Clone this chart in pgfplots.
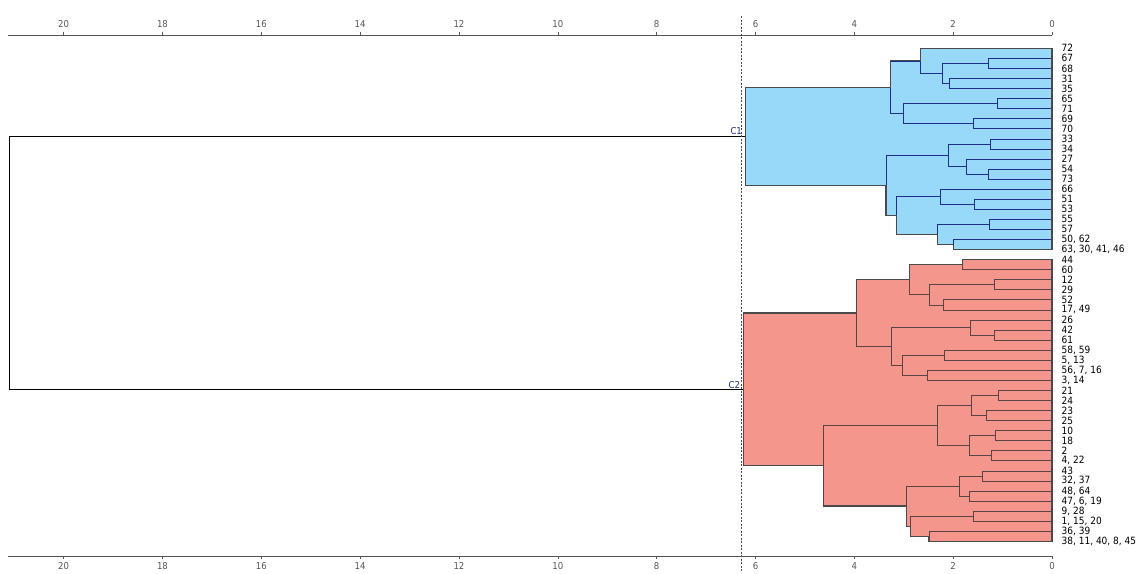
\documentclass[border=0pt]{standalone}
\usepackage{fontspec}
\setmainfont{DejaVu Sans Condensed}
\usepackage{pgfplots}
\pgfplotsset{compat=1.18}

\definecolor{cblue}{HTML}{98D8F8}
\definecolor{cred}{HTML}{F5968C}
\definecolor{navyln}{HTML}{1E2E8E}
\definecolor{redln}{HTML}{5A4444}
\definecolor{edge}{HTML}{4A4A4A}
\definecolor{tickgray}{HTML}{555555}

\pgfplotsset{
  dendro/.style={
    width=1043.7bp, height=520.7bp, scale only axis,
    x dir=reverse, y dir=reverse,
    xmin=0, xmax=21.12, ymin=-1.32, ymax=50.44,
    xtick={0,2,...,20},
    tick align=outside, major tick length=3.5bp,
    x axis line style={-, draw=tickgray},
    xtick style={draw=tickgray, semithick},
    xticklabel style={font=\fontsize{9.5bp}{11bp}\selectfont, text=tickgray},
    /pgf/number format/assume math mode=true,
    clip=false,
  },
}

\begin{document}
\begin{tikzpicture}
% top scale
\begin{axis}[dendro, name=ax2,
  axis x line*=bottom, hide y axis]
\end{axis}

\begin{axis}[dendro, name=ax,
  axis x line*=top, axis y line*=right,
  y axis line style={draw=none},
  ytick={0,...,49},
  yticklabels={72,67,68,31,35,65,71,69,70,33,34,27,54,73,66,51,53,55,57,{50, 62},{63, 30, 41, 46},
    44,60,12,29,52,{17, 49},26,42,61,{58, 59},{5, 13},{56, 7, 16},{3, 14},21,24,23,25,10,18,2,{4, 22},
    43,{32, 37},{48, 64},{47, 6, 19},{9, 28},{1, 15, 20},{36, 39},{38, 11, 40, 8, 45}},
  ytick style={draw=none},
  yticklabel style={font=\fontsize{10bp}{11bp}\selectfont, anchor=west, inner sep=0pt, xshift=6bp},
  unbounded coords=jump,
]

% cluster areas
\addplot[fill=cblue, draw=none] coordinates {
  (6.21,3.875) (3.27,3.875) (3.27,1.25) (2.67,1.25) (2.67,0) (0,0) (0,20)
  (1.99,20) (1.99,19.5) (2.32,19.5) (2.32,18.5) (3.15,18.5) (3.15,16.625)
  (3.36,16.625) (3.36,13.625) (6.21,13.625)} -- cycle;
\addplot[fill=cred, draw=none] coordinates {
  (6.25,26.3125) (3.95,26.3125) (3.95,23) (2.88,23) (2.88,21.5) (1.82,21.5) (1.82,21) (0,21) (0,49)
  (2.49,49) (2.49,48.5) (2.86,48.5) (2.86,47.5) (2.95,47.5) (2.95,45.5)
  (4.63,45.5) (4.63,41.5) (6.25,41.5)} -- cycle;

% C1 links
\addplot[navyln, line width=0.6bp] coordinates {
  (0,1) (1.29,1) (1.29,2) (0,2) (nan,nan)
  (0,3) (2.07,3) (2.07,4) (0,4) (nan,nan)
  (1.29,1.5) (2.22,1.5) (2.22,3.5) (2.07,3.5) (nan,nan)
  (0,0) (2.67,0) (2.67,2.5) (2.22,2.5) (nan,nan)
  (0,5) (1.10,5) (1.10,6) (0,6) (nan,nan)
  (0,7) (1.59,7) (1.59,8) (0,8) (nan,nan)
  (1.10,5.5) (3.00,5.5) (3.00,7.5) (1.59,7.5) (nan,nan)
  (2.67,1.25) (3.27,1.25) (3.27,6.5) (3.00,6.5) (nan,nan)
  (0,9) (1.24,9) (1.24,10) (0,10) (nan,nan)
  (0,12) (1.28,12) (1.28,13) (0,13) (nan,nan)
  (0,11) (1.74,11) (1.74,12.5) (1.28,12.5) (nan,nan)
  (1.24,9.5) (2.09,9.5) (2.09,11.75) (1.74,11.75) (nan,nan)
  (0,15) (1.57,15) (1.57,16) (0,16) (nan,nan)
  (0,14) (2.26,14) (2.26,15.5) (1.57,15.5) (nan,nan)
  (0,17) (1.27,17) (1.27,18) (0,18) (nan,nan)
  (0,19) (1.99,19) (1.99,20) (0,20) (nan,nan)
  (1.27,17.5) (2.32,17.5) (2.32,19.5) (1.99,19.5) (nan,nan)
  (2.26,14.75) (3.15,14.75) (3.15,18.5) (2.32,18.5) (nan,nan)
  (2.09,10.625) (3.36,10.625) (3.36,16.625) (3.15,16.625) (nan,nan)
  (3.27,3.875) (6.21,3.875) (6.21,13.625) (3.36,13.625)};

% C2 links
\addplot[redln, line width=0.6bp] coordinates {
  (0,21) (1.82,21) (1.82,22) (0,22) (nan,nan)
  (0,23) (1.16,23) (1.16,24) (0,24) (nan,nan)
  (0,25) (2.20,25) (2.20,26) (0,26) (nan,nan)
  (1.16,23.5) (2.48,23.5) (2.48,25.5) (2.20,25.5) (nan,nan)
  (1.82,21.5) (2.88,21.5) (2.88,24.5) (2.48,24.5) (nan,nan)
  (0,28) (1.17,28) (1.17,29) (0,29) (nan,nan)
  (0,27) (1.66,27) (1.66,28.5) (1.17,28.5) (nan,nan)
  (0,30) (2.18,30) (2.18,31) (0,31) (nan,nan)
  (0,32) (2.52,32) (2.52,33) (0,33) (nan,nan)
  (2.18,30.5) (3.02,30.5) (3.02,32.5) (2.52,32.5) (nan,nan)
  (1.66,27.75) (3.26,27.75) (3.26,31.5) (3.02,31.5) (nan,nan)
  (2.88,23) (3.95,23) (3.95,29.625) (3.26,29.625) (nan,nan)
  (0,34) (1.08,34) (1.08,35) (0,35) (nan,nan)
  (0,36) (1.33,36) (1.33,37) (0,37) (nan,nan)
  (1.08,34.5) (1.64,34.5) (1.64,36.5) (1.33,36.5) (nan,nan)
  (0,38) (1.14,38) (1.14,39) (0,39) (nan,nan)
  (0,40) (1.23,40) (1.23,41) (0,41) (nan,nan)
  (1.14,38.5) (1.67,38.5) (1.67,40.5) (1.23,40.5) (nan,nan)
  (1.64,35.5) (2.32,35.5) (2.32,39.5) (1.67,39.5) (nan,nan)
  (0,42) (1.41,42) (1.41,43) (0,43) (nan,nan)
  (0,44) (1.68,44) (1.68,45) (0,45) (nan,nan)
  (1.41,42.5) (1.88,42.5) (1.88,44.5) (1.68,44.5) (nan,nan)
  (0,46) (1.60,46) (1.60,47) (0,47) (nan,nan)
  (0,48) (2.49,48) (2.49,49) (0,49) (nan,nan)
  (1.60,46.5) (2.86,46.5) (2.86,48.5) (2.49,48.5) (nan,nan)
  (1.88,43.5) (2.95,43.5) (2.95,47.5) (2.86,47.5) (nan,nan)
  (2.32,37.5) (4.63,37.5) (4.63,45.5) (2.95,45.5) (nan,nan)
  (3.95,26.3125) (6.25,26.3125) (6.25,41.5) (4.63,41.5)};

% cluster outlines
\addplot[edge, line width=1.1bp] coordinates {
  (6.21,3.875) (3.27,3.875) (3.27,1.25) (2.67,1.25) (2.67,0) (0,0) (0,20)
  (1.99,20) (1.99,19.5) (2.32,19.5) (2.32,18.5) (3.15,18.5) (3.15,16.625)
  (3.36,16.625) (3.36,13.625) (6.21,13.625)} -- cycle;
\addplot[edge, line width=1.1bp] coordinates {
  (6.25,26.3125) (3.95,26.3125) (3.95,23) (2.88,23) (2.88,21.5) (1.82,21.5) (1.82,21) (0,21) (0,49)
  (2.49,49) (2.49,48.5) (2.86,48.5) (2.86,47.5) (2.95,47.5) (2.95,45.5)
  (4.63,45.5) (4.63,41.5) (6.25,41.5)} -- cycle;

% root link
\addplot[black, line width=0.6bp] coordinates {
  (6.21,8.75) (21.1,8.75) (21.1,33.906) (6.25,33.906)};

% cut level
\addplot[edge, line width=0.6bp, dash pattern=on 2bp off 1.5bp] coordinates {
  (6.28,-3.2) (6.28,52.1)};

\node[anchor=south east, inner sep=1bp, text=navyln, font=\fontsize{9.5bp}{11bp}\selectfont]
  at (axis cs:6.25,8.75) {C1};
\node[anchor=south east, inner sep=1bp, text=navyln, font=\fontsize{9.5bp}{11bp}\selectfont]
  at (axis cs:6.29,33.906) {C2};
\end{axis}

\path ([xshift=-8.3bp,yshift=35bp]ax.north west) rectangle ([xshift=90bp,yshift=-16.3bp]ax.south east);
\end{tikzpicture}
\end{document}
